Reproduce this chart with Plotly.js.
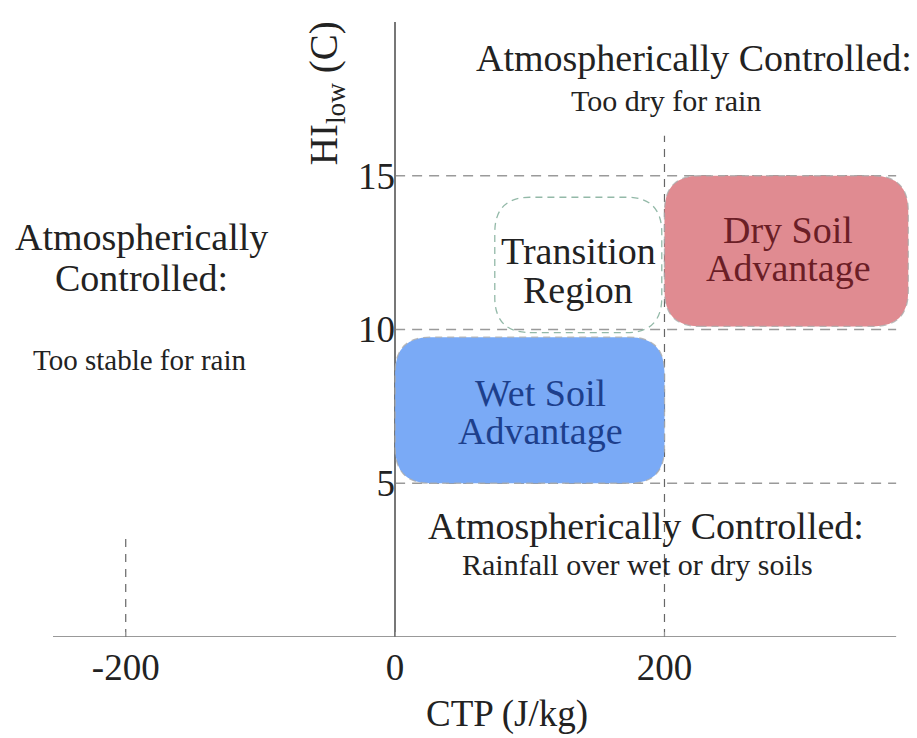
<!DOCTYPE html>
<html>
<head>
<meta charset="utf-8">
<script src="https://cdn.plot.ly/plotly-3.0.1.min.js"></script>
<style>html,body{margin:0;padding:0;background:#fff;}#chart{width:917px;height:738px;}</style>
</head>
<body>
<div id="chart"></div>
<script>
// ---- data ----
const xTickVals = [-200, 0, 200];
const xTickText = ['-200', '0', '200'];
const yTickVals = [5, 10, 15];
const yTickText = ['5', '10', '15'];

// threshold lines (HI_low levels and CTP levels)
const hiLevels = [5, 10, 15];
const hiLineStart = 0;
const hiLineEnd = 372;
const ctpLevels = [-200, 200];
const ctpLineTops = [3.4, 16.3];

// regions
const regionNames = ['Wet Soil Advantage', 'Transition Region', 'Dry Soil Advantage'];
const regionX0 = [0, 74, 200];
const regionX1 = [200, 198, 381];
const regionY0 = [5, 9.9, 10.1];
const regionY1 = [9.75, 14.3, 15];

// text labels (each line separate)
const labelLines = [
  'Atmospherically Controlled:', 'Too dry for rain',
  'Atmospherically', 'Controlled:', 'Too stable for rain',
  'Transition', 'Region',
  'Dry Soil', 'Advantage',
  'Wet Soil', 'Advantage',
  'Atmospherically Controlled:', 'Rainfall over wet or dry soils'
];
const labelX = [222, 201, -188, -188, -190, 136, 136, 292, 292, 108, 108, 186, 180];
const labelY = [18.83, 17.45, 13.0, 11.68, 9.0, 12.55, 11.3, 13.25, 12.0, 7.95, 6.7, 3.6, 2.35];

const xTitle = 'CTP (J/kg)';
const yTitle = 'HI<sub>low</sub> (C)';

// ---- styles ----
const FONT = 'Liberation Serif, Times New Roman, serif';
const regionFill = ['#7aaaf6', 'rgba(0,0,0,0)', '#e08b91'];
const regionLine = ['rgba(170,170,170,0.8)', '#93b9a8', 'rgba(170,170,170,0.8)'];
const labelSize = [38, 30, 38, 38, 29, 38, 38, 38, 38, 38, 38, 38, 30];
const labelColor = ['#222', '#222', '#222', '#222', '#222', '#222', '#222', '#6b1e26', '#6b1e26', '#1d3f8c', '#1d3f8c', '#222', '#222'];

function roundedPath(x0, x1, y0, y1, rx, ry) {
  return 'M' + (x0 + rx) + ',' + y0 +
    ' L' + (x1 - rx) + ',' + y0 +
    ' Q' + x1 + ',' + y0 + ' ' + x1 + ',' + (y0 + ry) +
    ' L' + x1 + ',' + (y1 - ry) +
    ' Q' + x1 + ',' + y1 + ' ' + (x1 - rx) + ',' + y1 +
    ' L' + (x0 + rx) + ',' + y1 +
    ' Q' + x0 + ',' + y1 + ' ' + x0 + ',' + (y1 - ry) +
    ' L' + x0 + ',' + (y0 + ry) +
    ' Q' + x0 + ',' + y0 + ' ' + (x0 + rx) + ',' + y0 + ' Z';
}

const shapes = [];
// horizontal threshold dashed lines
hiLevels.forEach(function (v) {
  shapes.push({type: 'line', xref: 'x', yref: 'y', x0: hiLineStart, x1: hiLineEnd, y0: v, y1: v,
    line: {color: '#9a9a9a', width: 1.6, dash: '10px,7px'}, layer: 'below'});
});
// vertical dashed lines
ctpLevels.forEach(function (v, i) {
  shapes.push({type: 'line', xref: 'x', yref: 'y', x0: v, x1: v, y0: 0, y1: ctpLineTops[i],
    line: {color: '#666', width: 1.2, dash: '8px,7px'}, layer: 'below'});
});
// bottom axis line
shapes.push({type: 'line', xref: 'x', yref: 'y', x0: -254, x1: hiLineEnd, y0: 0, y1: 0,
  line: {color: '#777', width: 1.6}});
// regions
regionNames.forEach(function (n, i) {
  shapes.push({type: 'path', xref: 'x', yref: 'y',
    path: roundedPath(regionX0[i], regionX1[i], regionY0[i], regionY1[i], 26, 1.15),
    fillcolor: regionFill[i], line: {color: regionLine[i], width: 1.3, dash: '7px,5px'}});
});

const annotations = labelLines.map(function (t, i) {
  return {text: t, x: labelX[i], y: labelY[i], xref: 'x', yref: 'y', showarrow: false,
    xanchor: 'center', yanchor: 'middle', font: {family: FONT, size: labelSize[i], color: labelColor[i]}};
});
annotations.push({text: yTitle, x: -51, y: 17.7, xref: 'x', yref: 'y', textangle: -90, showarrow: false,
  xanchor: 'center', yanchor: 'middle', font: {family: FONT, size: 39, color: '#222'}});
annotations.push({text: xTitle, x: 83, y: 0, xref: 'x', yref: 'paper', yshift: -100, showarrow: false,
  xanchor: 'center', yanchor: 'bottom', font: {family: FONT, size: 37, color: '#222'}});

const trace = {x: xTickVals, y: [0, 0, 0], type: 'scatter', mode: 'markers',
  marker: {opacity: 0}, hoverinfo: 'skip', showlegend: false};

const layout = {
  width: 917, height: 738,
  margin: {l: 53, r: 2, t: 22, b: 101},
  paper_bgcolor: '#fff', plot_bgcolor: '#fff',
  showlegend: false,
  font: {family: FONT, color: '#222'},
  xaxis: {range: [-254, 386], showgrid: false, zeroline: true, zerolinecolor: '#777', zerolinewidth: 1.6,
    showline: false, tickvals: xTickVals, ticktext: xTickText, ticks: 'inside', ticklen: 5,
    tickcolor: '#999', tickfont: {family: FONT, size: 37, color: '#222'}, ticklabelstandoff: 5},
  yaxis: {range: [0, 20], showgrid: false, zeroline: false, showline: false, anchor: 'free',
    position: 254 / 640, tickvals: yTickVals, ticktext: yTickText, ticks: '',
    tickfont: {family: FONT, size: 37, color: '#222'}},
  shapes: shapes,
  annotations: annotations
};

Plotly.newPlot('chart', [trace], layout, {staticPlot: true, displayModeBar: false});
</script>
</body>
</html>
